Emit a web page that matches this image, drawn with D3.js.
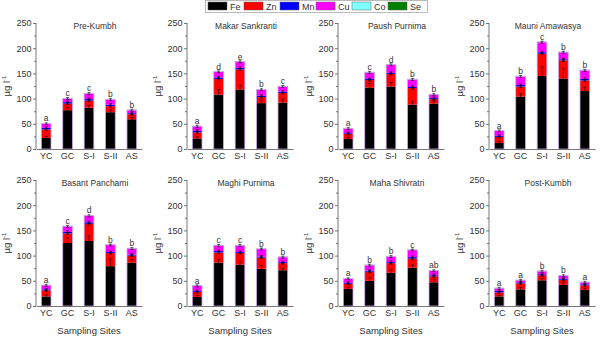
<!DOCTYPE html>
<html>
<head>
<meta charset="utf-8">
<script src="https://cdn.jsdelivr.net/npm/d3@7/dist/d3.min.js"></script>
<style>
  body { margin: 0; background: #fff; }
  svg { display: block; font-family: "Liberation Sans", Arial, sans-serif; }
  .axis text { font-size: 9px; fill: #333; }
  .axis path, .axis line { stroke: #555; stroke-width: 0.8; }
</style>
</head>
<body>
<svg id="chart" width="600" height="337"></svg>
<script>
const periods = ['Pre-Kumbh', 'Makar Sankranti', 'Paush Purnima', 'Mauni Amawasya',
  'Basant Panchami', 'Maghi Purnima', 'Maha Shivratri', 'Post-Kumbh'];
const sites = ['YC', 'GC', 'S-I', 'S-II', 'AS'];
const metals = ['Fe', 'Zn', 'Mn', 'Cu', 'Co', 'Se'];
const metalColors = ['#000000', '#ff0000', '#0000ff', '#ff00ff', '#80ffff', '#008000'];
const yTicks = [0, 50, 100, 150, 200, 250];

// concentrations (µg/l), one row per period, columns follow sites
const fe = [[22, 77, 82, 73, 59], [21, 108, 118, 91, 92], [20, 122, 124, 88, 90], [12, 104, 145, 140, 115],
  [19, 125, 129, 79, 86], [18, 86, 82, 74, 71], [34, 50, 66, 76, 47], [19, 33, 51, 42, 32]];
const zn = [[17, 13, 14, 12, 10], [12, 31, 40, 12, 19], [10, 15, 25, 33, 9], [12, 20, 44, 36, 21],
  [12, 19, 34, 26, 14], [10, 20, 23, 22, 14], [10, 18, 19, 18, 12], [8, 12, 10, 10, 9]];
const mn = [[3, 3, 3, 3, 2], [3, 3, 3, 2.5, 3], [1.5, 2, 2, 2, 2], [2, 3, 3, 2, 3],
  [2, 3, 3, 2, 2], [2, 3, 2, 2, 2], [2, 2, 2, 3, 2], [3, 2, 2, 2, 2]];
const cu = [[8, 7, 11, 10, 6], [9, 11, 12, 12, 10], [9, 13, 16, 15, 7], [10, 17, 20, 14, 17],
  [8, 11, 13, 14, 12], [10, 11, 13, 15, 10], [8, 11, 11, 14, 9], [5, 4, 6, 6, 4]];
const co = [[0.4, 0.4, 0.4, 0.4, 0.4], [0.4, 0.4, 0.4, 0.4, 0.4], [0.4, 0.4, 0.4, 0.4, 0.4], [0.4, 0.4, 0.4, 0.4, 0.4],
  [0.4, 0.4, 0.4, 0.4, 0.4], [0.4, 0.4, 0.4, 0.4, 0.4], [0.4, 0.4, 0.4, 0.4, 0.4], [0.4, 0.4, 0.4, 0.4, 0.4]];
const se = [[0.2, 0.2, 0.2, 0.2, 0.2], [0.2, 0.2, 0.2, 0.2, 0.2], [0.2, 0.2, 0.2, 0.2, 0.2], [0.2, 0.2, 0.2, 0.2, 0.2],
  [0.2, 0.2, 0.2, 0.2, 0.2], [0.2, 0.2, 0.2, 0.2, 0.2], [0.2, 0.2, 0.2, 0.2, 0.2], [0.2, 0.2, 0.2, 0.2, 0.2]];
// standard deviation of Fe; other metals use errOther
const feErr = [[3, 5, 5, 5, 4], [3, 10, 8, 6, 8], [3, 8, 8, 6, 5], [3, 6, 18, 20, 8],
  [3, 10, 10, 15, 6], [3, 6, 6, 6, 4], [3, 6, 6, 6, 5], [2, 4, 4, 4, 3]];
const errOther = 2;
const letters = [['a', 'c', 'c', 'b', 'b'], ['a', 'd', 'e', 'b', 'c'], ['a', 'c', 'd', 'b', 'b'], ['a', 'b', 'c', 'b', 'b'],
  ['a', 'c', 'd', 'b', 'b'], ['a', 'c', 'c', 'b', 'b'], ['a', 'b', 'b', 'c', 'ab'], ['a', 'a', 'b', 'b', 'a']];

const series = [fe, zn, mn, cu, co, se];

const svg = d3.select('#chart');
const lefts = [36, 187, 338, 489];
const tops = [23, 180];
const plotW = 106;
const plotH = 126;

periods.forEach((name, p) => {
  const left = lefts[p % 4];
  const top = tops[Math.floor(p / 4)];
  const g = svg.append('g');

  const x = d3.scaleBand().domain(sites).range([left, left + plotW])
    .paddingInner(0.55).paddingOuter(0.25);
  const y = d3.scaleLinear().domain([0, 250]).range([top + plotH, top]);

  // stacked rows
  const rows = sites.map((s, i) => {
    const r = { site: s };
    metals.forEach((m, k) => { r[m] = series[k][p][i]; });
    return r;
  });
  const stacked = d3.stack().keys(metals)(rows);
  const total = i => d3.sum(series, s => s[p][i]);

  g.selectAll('.layer')
    .data(stacked)
    .join('g')
    .attr('fill', (d, k) => metalColors[k])
    .selectAll('rect')
    .data(d => d)
    .join('rect')
    .attr('x', d => x(d.data.site))
    .attr('width', x.bandwidth())
    .attr('y', d => y(d[1]))
    .attr('height', d => y(d[0]) - y(d[1]));

  // lavender outline of each bar
  g.selectAll('.outline')
    .data(rows)
    .join('rect')
    .attr('fill', 'none')
    .attr('stroke', '#c9a3e6')
    .attr('stroke-width', 0.8)
    .attr('x', d => x(d.site))
    .attr('width', x.bandwidth())
    .attr('y', (d, i) => y(total(i)))
    .attr('height', (d, i) => y(0) - y(total(i)));

  // error bars at top of Fe, Zn, Mn, Cu segments
  stacked.slice(0, 4).forEach((layer, k) => {
    layer.forEach((d, i) => {
      const e = k === 0 ? feErr[p][i] : errOther;
      const cx = x(d.data.site) + x.bandwidth() / 2;
      const eg = g.append('g').attr('stroke', '#000').attr('stroke-width', 0.6);
      eg.append('line').attr('x1', cx).attr('x2', cx).attr('y1', y(d[1] - e)).attr('y2', y(d[1] + e));
      eg.append('line').attr('x1', cx - 1.5).attr('x2', cx + 1.5).attr('y1', y(d[1] + e)).attr('y2', y(d[1] + e));
      eg.append('line').attr('x1', cx - 1.5).attr('x2', cx + 1.5).attr('y1', y(d[1] - e)).attr('y2', y(d[1] - e));
    });
  });

  // significance letters
  g.selectAll('.letter')
    .data(rows)
    .join('text')
    .attr('x', d => x(d.site) + x.bandwidth() / 2)
    .attr('y', (d, i) => y(total(i)) - 2)
    .attr('text-anchor', 'middle')
    .attr('font-size', 8.5)
    .attr('fill', '#333')
    .text((d, i) => letters[p][i]);

  // axes
  const yAxis = g.append('g')
    .attr('class', 'axis')
    .attr('transform', `translate(${left},0)`)
    .call(d3.axisLeft(y).tickValues(yTicks).tickSize(3).tickPadding(1.5));
  g.append('g')
    .attr('class', 'axis')
    .attr('transform', `translate(${left},0)`)
    .call(d3.axisLeft(y).tickValues(d3.range(25, 250, 50)).tickSize(2).tickFormat(''))
    .select('.domain').remove();
  yAxis.select('.domain').attr('d', `M0,${top + plotH}V${top}`);

  const xAxis = g.append('g')
    .attr('class', 'axis')
    .attr('transform', `translate(0,${top + plotH})`)
    .call(d3.axisBottom(x).tickSize(0).tickPadding(4));
  xAxis.selectAll('text').attr('font-size', 9.5);

  // title
  g.append('text')
    .attr('x', left + 59)
    .attr('y', top + 5.5)
    .attr('text-anchor', 'middle')
    .attr('font-size', 8.5)
    .attr('fill', '#333')
    .text(name);

  // y label
  const yl = g.append('text')
    .attr('transform', `translate(${left - 26},${top + plotH / 2}) rotate(-90)`)
    .attr('text-anchor', 'middle')
    .attr('font-size', 9.5)
    .attr('fill', '#333');
  yl.append('tspan').text('µg l');
  yl.append('tspan').attr('dy', -4).attr('font-size', 6).text('-1');

  if (p >= 4) {
    g.append('text')
      .attr('x', left + 53)
      .attr('y', top + plotH + 28)
      .attr('text-anchor', 'middle')
      .attr('font-size', 9.5)
      .attr('fill', '#333')
      .text('Sampling Sites');
  }
});

// legend
const legend = svg.append('g');
legend.append('rect')
  .attr('x', 205.5).attr('y', 0.5).attr('width', 222).attr('height', 12)
  .attr('fill', '#fff').attr('stroke', '#aaa').attr('stroke-width', 0.8);
const lx = d3.scalePoint().domain(metals).range([208, 388]);
const items = legend.selectAll('.item').data(metals).join('g')
  .attr('transform', d => `translate(${lx(d)},2)`);
items.append('rect')
  .attr('width', 19).attr('height', 8)
  .attr('fill', (d, k) => metalColors[k])
  .attr('stroke', '#666').attr('stroke-width', 0.5);
items.append('text')
  .attr('x', 22).attr('y', 7.5)
  .attr('font-size', 9).attr('fill', '#333')
  .text(d => d);
</script>
</body>
</html>
